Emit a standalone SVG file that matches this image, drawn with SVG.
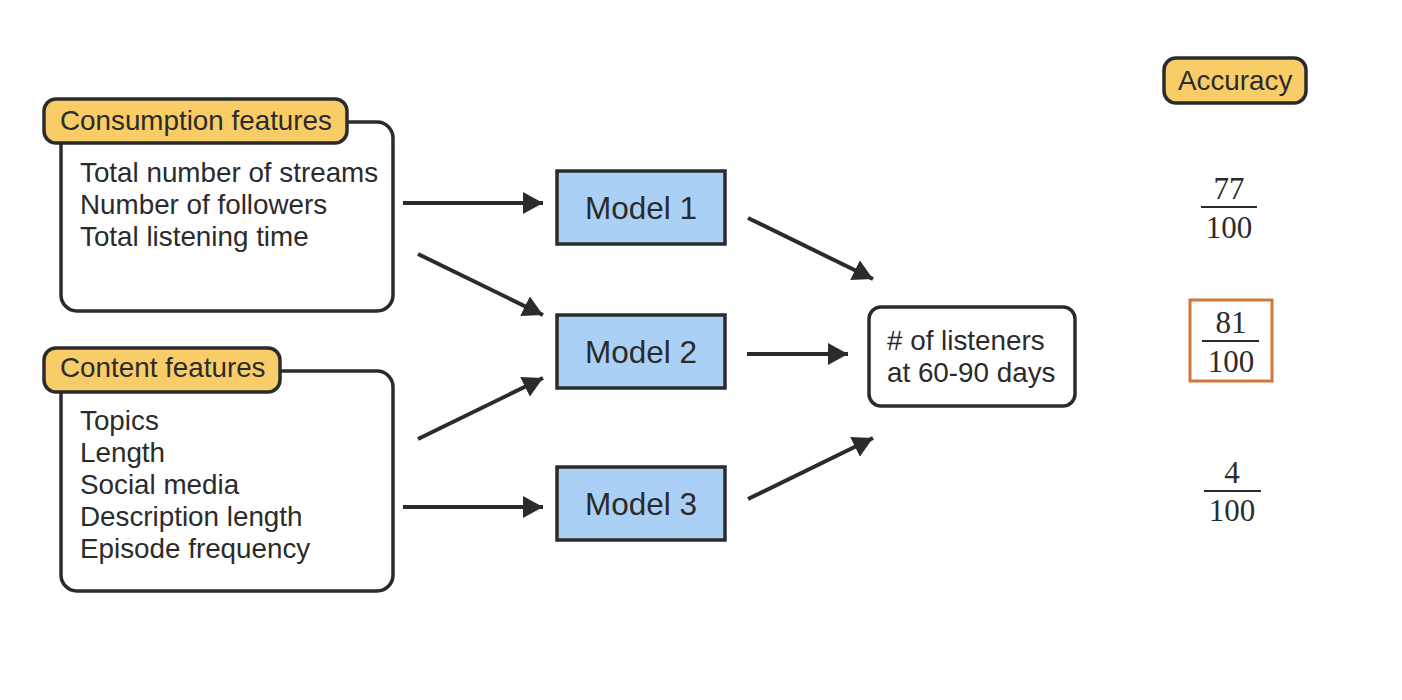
<svg xmlns="http://www.w3.org/2000/svg" width="1402" height="700" viewBox="0 0 1402 700">
<defs>
<marker id="ah" viewBox="0 0 10 10" refX="10" refY="5" markerWidth="5" markerHeight="5.5" markerUnits="strokeWidth" orient="auto" preserveAspectRatio="none">
<path d="M0,0 L10,5 L0,10 Z" fill="#2b2b2b"/>
</marker>
<style>
.box{fill:#fff;stroke:#2b2b2b;stroke-width:3.5}
.pill{fill:#f8cd68;stroke:#2b2b2b;stroke-width:3.5}
.model{fill:#abd0f6;stroke:#2b2b2b;stroke-width:3.5}
.t{font-family:"Liberation Sans",Arial,sans-serif;font-size:27.8px;fill:#2b2b2b}
.m{font-family:"Liberation Sans",Arial,sans-serif;font-size:31.5px;fill:#2b2b2b;text-anchor:middle}
.f{font-family:"Liberation Serif","Times New Roman",serif;font-size:31px;fill:#2b2b2b;text-anchor:middle}
.fl{stroke:#2b2b2b;stroke-width:2}
.c{stroke:#2b2b2b;stroke-width:4;fill:none;marker-end:url(#ah)}
</style>
</defs>
<rect width="1402" height="700" fill="#fff"/>
<g id="consumption">
<rect class="box" x="61" y="122" width="332" height="189" rx="16"/>
<rect class="pill" x="44" y="99" width="303" height="44" rx="12"/>
<text class="t" x="60" y="130">Consumption features</text>
<text class="t" x="80" y="182">Total number of streams</text>
<text class="t" x="80" y="214">Number of followers</text>
<text class="t" x="80" y="246">Total listening time</text>
</g>
<g id="content">
<rect class="box" x="61" y="371" width="332" height="220" rx="16"/>
<rect class="pill" x="44" y="348" width="236" height="44" rx="12"/>
<text class="t" x="60" y="377">Content features</text>
<text class="t" x="80" y="430">Topics</text>
<text class="t" x="80" y="462">Length</text>
<text class="t" x="80" y="494">Social media</text>
<text class="t" x="80" y="526">Description length</text>
<text class="t" x="80" y="558">Episode frequency</text>
</g>
<g id="model1">
<rect class="model" x="557" y="171" width="168" height="73"/>
<text class="m" x="641" y="219">Model 1</text>
</g>
<g id="model2">
<rect class="model" x="557" y="315" width="168" height="73"/>
<text class="m" x="641" y="363">Model 2</text>
</g>
<g id="model3">
<rect class="model" x="557" y="467" width="168" height="73"/>
<text class="m" x="641" y="515">Model 3</text>
</g>
<g id="output">
<rect class="box" x="869" y="307" width="206" height="99" rx="12"/>
<text class="t" x="887" y="350">
<tspan x="887" y="350"># of listeners</tspan>
<tspan x="887" y="382">at 60-90 days</tspan>
</text>
</g>
<g id="accuracy">
<rect class="pill" x="1164" y="58" width="142" height="45" rx="12"/>
<text class="t" x="1178" y="90">Accuracy</text>
</g>
<g id="acc1">
<text class="f" x="1229" y="199">77</text>
<line class="fl" x1="1201" y1="207" x2="1257" y2="207"/>
<text class="f" x="1229" y="238">100</text>
</g>
<g id="acc2">
<rect x="1190" y="300" width="82" height="81" fill="none" stroke="#d4763b" stroke-width="3"/>
<text class="f" x="1231" y="333">81</text>
<line class="fl" x1="1202" y1="341" x2="1259" y2="341"/>
<text class="f" x="1231" y="372">100</text>
</g>
<g id="acc3">
<text class="f" x="1232" y="483">4</text>
<line class="fl" x1="1204" y1="491" x2="1261" y2="491"/>
<text class="f" x="1232" y="521">100</text>
</g>
<g id="connectors">
<line class="c" x1="403" y1="203" x2="543" y2="203"/>
<line class="c" x1="418" y1="254" x2="543" y2="315"/>
<line class="c" x1="418" y1="439" x2="543" y2="378"/>
<line class="c" x1="403" y1="507" x2="543" y2="507"/>
<line class="c" x1="748" y1="218" x2="873" y2="279"/>
<line class="c" x1="747" y1="354" x2="848" y2="354"/>
<line class="c" x1="748" y1="499" x2="873" y2="438"/>
</g>
</svg>
